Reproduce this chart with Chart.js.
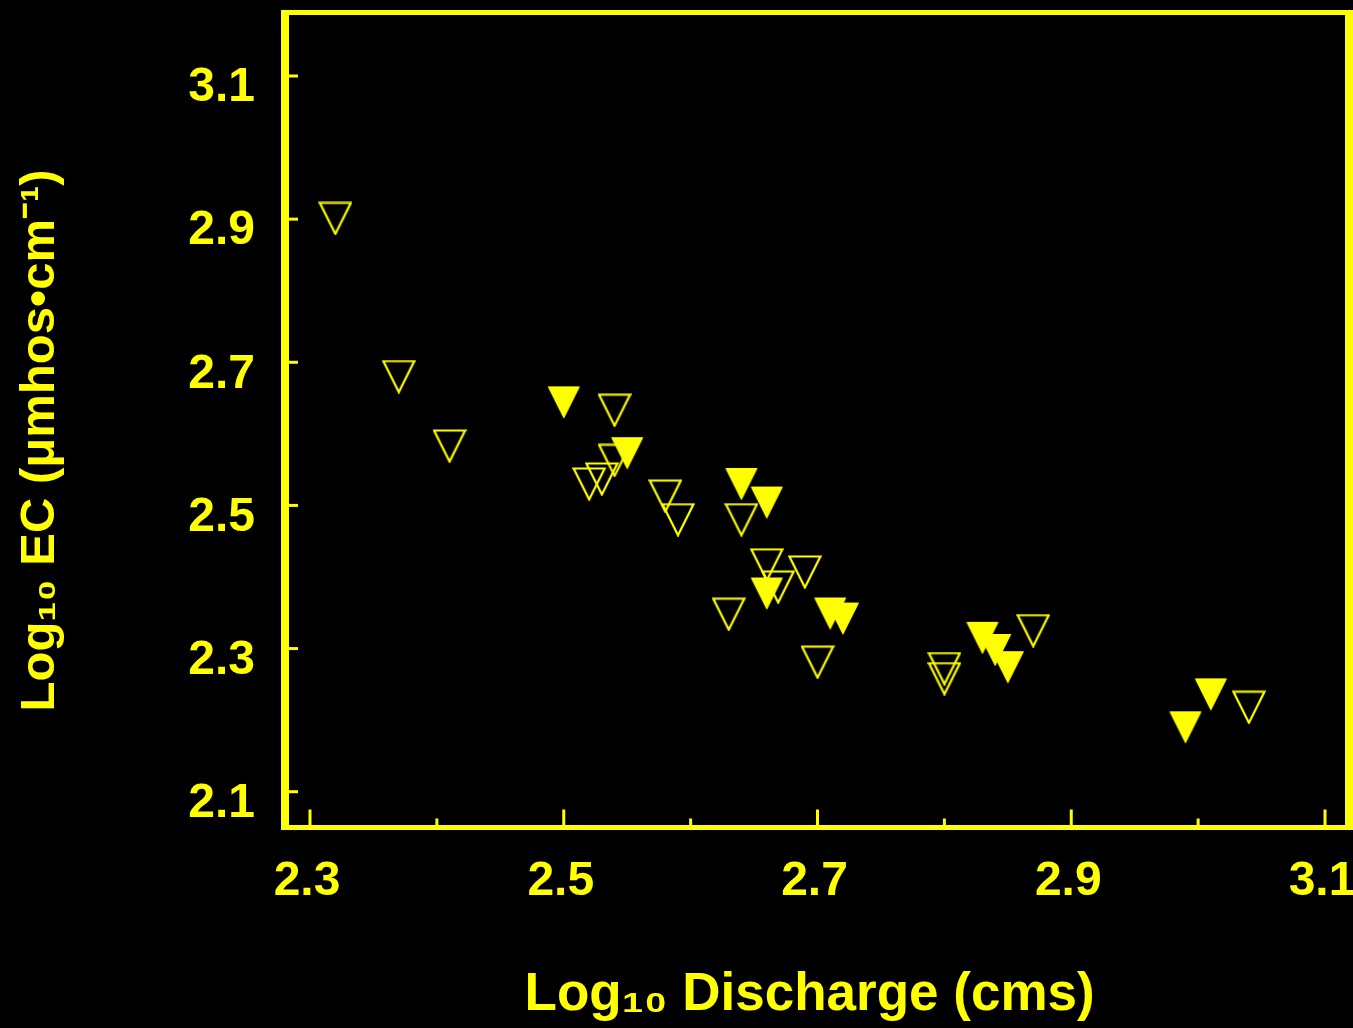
<!DOCTYPE html>
<html>
<head>
<meta charset="utf-8">
<style>
html,body{margin:0;padding:0;background:#000;}
#wrap{width:1353px;height:1028px;background:#000;}
</style>
<script src="https://cdn.jsdelivr.net/npm/chart.js@4/dist/chart.umd.min.js"></script>
</head>
<body>
<div id="wrap"><canvas id="c" width="1353" height="1028"></canvas></div>
<script>
// ---- data ----
const openX = [2.320, 2.370, 2.410, 2.540, 2.540, 2.530, 2.520, 2.580, 2.590, 2.640, 2.660, 2.690, 2.669, 2.630, 2.700, 2.800, 2.800, 2.870, 3.040];
const openY = [2.901, 2.680, 2.583, 2.633, 2.563, 2.537, 2.530, 2.513, 2.480, 2.480, 2.417, 2.407, 2.386, 2.348, 2.281, 2.272, 2.258, 2.325, 2.218];
const filledX = [2.500, 2.550, 2.640, 2.660, 2.660, 2.710, 2.720, 2.830, 2.840, 2.850, 3.010, 2.990];
const filledY = [2.644, 2.573, 2.530, 2.504, 2.377, 2.349, 2.342, 2.315, 2.298, 2.274, 2.236, 2.190];
const xTickValues = [2.3, 2.5, 2.7, 2.9, 3.1];
const xMinorTickValues = [2.4, 2.6, 2.8, 3.0];
const yTickValues = [2.1, 2.3, 2.5, 2.7, 2.9, 3.1];
const xTitle = 'Log\u2081\u2080 Discharge (cms) ';
const yTitle = 'Log\u2081\u2080 EC (\u03BCmhos\u2022cm\u207B\u00B9)   ';

const YEL = '#FFFF00';
const FAM = '"Liberation Sans", Arial, Helvetica, sans-serif';

function triangle(filled) {
  const c = document.createElement('canvas');
  c.width = 34; c.height = 34;
  const g = c.getContext('2d');
  g.beginPath();
  g.moveTo(1.5, 1.5); g.lineTo(32.5, 1.5); g.lineTo(17, 32.5); g.closePath();
  g.strokeStyle = YEL;
  if (filled) { g.fillStyle = YEL; g.fill(); g.lineWidth = 1; g.stroke(); }
  else { g.lineWidth = 2.2; g.stroke(); }
  return c;
}

const framePlugin = {
  id: 'frame',
  afterDatasetsDraw(chart) {
    const {ctx, chartArea: a, scales: {x, y}} = chart;
    ctx.save();
    ctx.strokeStyle = YEL;
    ctx.lineCap = 'butt';
    const line = (x1, y1, x2, y2) => { ctx.beginPath(); ctx.moveTo(x1, y1); ctx.lineTo(x2, y2); ctx.stroke(); };
    ctx.lineWidth = 3;
    xTickValues.forEach(v => { const p = x.getPixelForValue(v); line(p, a.bottom, p, a.bottom - 18); });
    xMinorTickValues.forEach(v => { const p = x.getPixelForValue(v); line(p, a.bottom, p, a.bottom - 9); });
    yTickValues.forEach(v => { const p = y.getPixelForValue(v); line(a.left, p, a.left + 13, p); });
    ctx.lineWidth = 5;
    line(a.left - 4, a.top, a.right + 4, a.top);
    line(a.left - 4, a.bottom, a.right + 4, a.bottom);
    ctx.lineWidth = 8;
    line(a.left, a.top - 2.5, a.left, a.bottom + 2.5);
    line(a.right, a.top - 2.5, a.right, a.bottom + 2.5);
    ctx.restore();
  }
};

function zeroPad(s) { s.paddingTop = 0; s.paddingBottom = 0; s.paddingLeft = 0; s.paddingRight = 0; }

const openData = openX.map((v, i) => ({x: v, y: openY[i]}));
const filledData = filledX.map((v, i) => ({x: v, y: filledY[i]}));

new Chart(document.getElementById('c'), {
  type: 'scatter',
  data: {
    datasets: [
      { label: 'filled', data: filledData, pointStyle: triangle(true), pointRadius: 17, order: 1 },
      { label: 'open', data: openData, pointStyle: triangle(false), pointRadius: 17, order: 2 }
    ]
  },
  options: {
    responsive: false,
    devicePixelRatio: 1,
    animation: false,
    layout: { autoPadding: false, padding: { top: 12.5, right: 4, left: 0, bottom: 0 } },
    plugins: { legend: { display: false }, tooltip: { enabled: false } },
    scales: {
      x: {
        type: 'linear', min: 2.2803, max: 3.1189,
        afterFit(s) { s.height = 200.5; zeroPad(s); },
        afterBuildTicks(s) { s.ticks = xTickValues.map(v => ({value: v})); },
        grid: { display: false, drawTicks: false },
        border: { display: false },
        ticks: { color: YEL, padding: 25, labelOffset: -3, autoSkip: false, maxRotation: 0,
          font: { family: FAM, size: 48, weight: 'bold' },
          callback: v => Number(v).toFixed(1) },
        title: { display: true, text: xTitle, color: YEL,
          font: { family: FAM, size: 53, weight: 'bold', lineHeight: 1 },
          padding: { top: 0, bottom: 6 } }
      },
      y: {
        type: 'linear', min: 2.05, max: 3.1887,
        afterFit(s) { s.width = 285; zeroPad(s); },
        afterBuildTicks(s) { s.ticks = yTickValues.map(v => ({value: v})); },
        grid: { display: false, drawTicks: false },
        border: { display: false },
        ticks: { color: YEL, padding: 30, labelOffset: 12, autoSkip: false,
          font: { family: FAM, size: 48, weight: 'bold' },
          callback: v => Number(v).toFixed(1) },
        title: { display: true, text: yTitle, color: YEL,
          font: { family: FAM, size: 49, weight: 'bold', lineHeight: 1 },
          padding: { top: 16, bottom: 0 } }
      }
    }
  },
  plugins: [framePlugin]
});
</script>
</body>
</html>
